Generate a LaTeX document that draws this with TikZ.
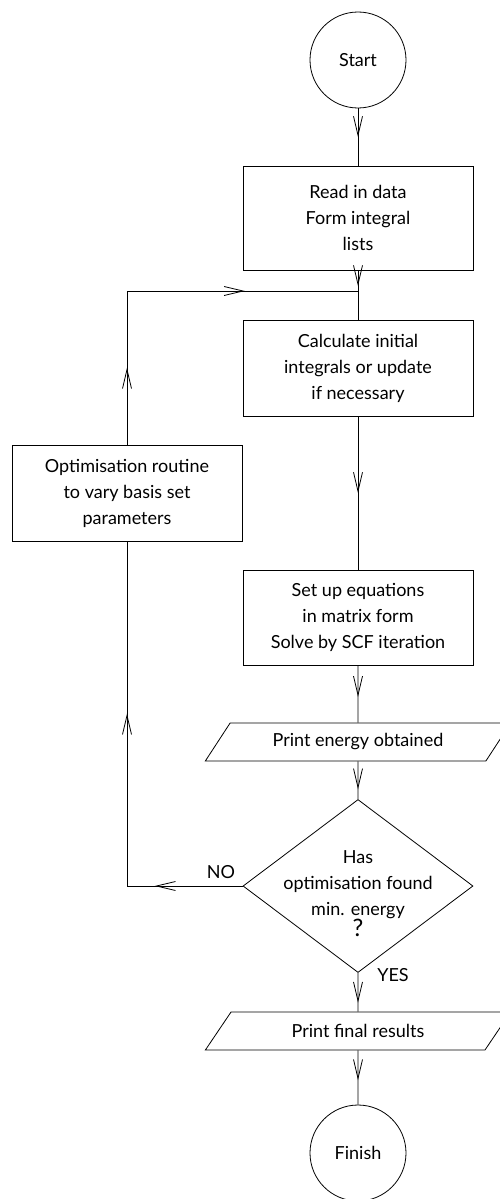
\documentclass[tikz,border=0pt]{standalone}
\usepackage{fontspec}
\setmainfont{Lato}
\usetikzlibrary{shapes.geometric,arrows.meta,decorations.markings}
\newcommand{\flowfont}{\fontsize{18}{26}\selectfont}
\begin{document}
\begin{tikzpicture}[x=1pt,y=-1pt,
  line width=0.8pt,
  every node/.style={font=\flowfont, align=center},
  procbox/.style={draw, rectangle, minimum width=230pt, inner sep=2pt},
  terminal/.style={draw, circle, minimum size=96pt, inner sep=0pt},
  iobox/.style={draw, trapezium, trapezium left angle=45, trapezium right angle=135,
    trapezium stretches=true, minimum width=306pt, minimum height=38pt, inner sep=0pt},
  decision/.style={draw, diamond, minimum width=230pt, minimum height=173pt, inner sep=0pt},
  midarrow/.style={postaction={decorate}, decoration={markings,
    mark=at position #1 with {\arrow{Straight Barb[length=19pt,width=9pt,line width=0.8pt]}}}}
]
\useasboundingbox (0,0) rectangle (499,1199);

% main column
\node[terminal] (start) at (358,60) {Start};
\node[procbox, minimum height=104pt] (read) at (358,218) {Read in data\\Form integral\\lists};
\node[procbox, minimum height=96pt] (calc) at (358,368) {Calculate initial\\integrals or update\\if necessary};
\node[procbox, minimum height=95pt] (setup) at (358,617.5) {Set up equations\\in matrix form\\Solve by SCF iteration};
\node[iobox] (printE) at (358,742) {Print energy obtained};
\node[decision] (dec) at (358,886) {};
\node at (358,894) {Has\\optimisation found\\min. energy\\[-5pt]{\fontsize{24}{24}\selectfont ?}};
\node[iobox] (printF) at (358,1031) {Print final results};
\node[terminal] (finish) at (358,1153) {Finish};

% loop-back column
\node[procbox, minimum height=96pt] (opt) at (127,493) {Optimisation routine\\to vary basis set\\parameters};

\coordinate (join) at (358,291);
\coordinate (cornerTop) at (127,291);
\coordinate (cornerNo) at (127,886);

% connectors
\draw[midarrow=0.5] (start) -- (read);
\draw[midarrow=0.76] (read) -- (join);
\draw (join) -- (calc);
\draw[midarrow=0.5] (calc) -- (setup);
\draw[midarrow=0.55] (setup) -- (printE);
\draw[midarrow=0.74] (printE) -- (dec);
\draw[midarrow=0.77] (dec.south) -- (printF);
\draw[midarrow=0.55] (printF) -- (finish);

\draw[midarrow=0.76] (dec.west) -- (cornerNo);
\draw[midarrow=0.5] (cornerNo) -- (opt);
\draw[midarrow=0.5] (opt) -- (cornerTop);
\draw[midarrow=0.51] (cornerTop) -- (join);

% branch labels
\node at (221,872) {NO};
\node at (393,975) {YES};
\end{tikzpicture}
\end{document}
